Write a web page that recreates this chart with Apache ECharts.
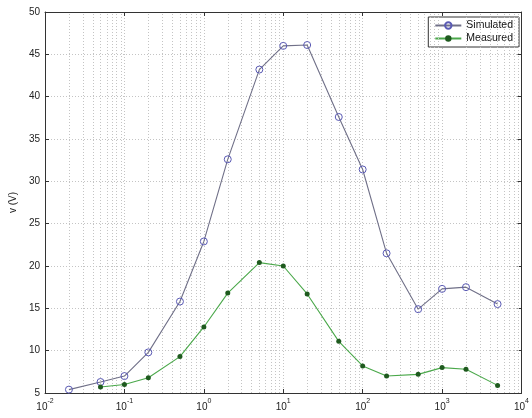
<!DOCTYPE html>
<html>
<head>
<meta charset="utf-8">
<script src="https://cdn.jsdelivr.net/npm/echarts@6/dist/echarts.min.js"></script>
<style>
  html, body { margin: 0; padding: 0; background: #fff; }
  #chart { width: 532px; height: 418px; }
</style>
</head>
<body>
<div id="chart"></div>
<script>
// frequency points (log axis) and measured voltages
var simX = [0.02, 0.05, 0.1, 0.2, 0.5, 1, 2, 5, 10, 20, 50, 100, 200, 500, 1000, 2000, 5000];
var simY = [5.4, 6.3, 7.0, 9.8, 15.8, 22.9, 32.6, 43.2, 46.0, 46.1, 37.6, 31.4, 21.5, 14.9, 17.3, 17.5, 15.5];
var measX = [0.05, 0.1, 0.2, 0.5, 1, 2, 5, 10, 20, 50, 100, 200, 500, 1000, 2000, 5000];
var measY = [5.7, 6.0, 6.8, 9.3, 12.8, 16.8, 20.4, 20.0, 16.7, 11.1, 8.2, 7.0, 7.2, 8.0, 7.8, 5.9];
var xTickExps = [-2, -1, 0, 1, 2, 3, 4];
var yTicks = [5, 10, 15, 20, 25, 30, 35, 40, 45, 50];

function pairs(xs, ys) {
    return xs.map(function (x, i) { return [x, ys[i]]; });
}

// minor log grid lines at 2..9 x 10^k
var minorLines = [];
for (var k = -2; k < 4; k++) {
    for (var m = 2; m <= 9; m++) {
        minorLines.push({ xAxis: m * Math.pow(10, k) });
    }
}

var myChart = echarts.init(document.getElementById('chart'));
var txt = { fontFamily: 'Liberation Sans', fontSize: 10, color: '#222' };
var gridDots = { color: '#c4c4c4', type: [1, 2], width: 1 };

option = {
    animation: false,
    backgroundColor: '#fff',
    textStyle: { fontFamily: 'Liberation Sans' },
    grid: { left: 39, right: 10, top: 12, bottom: 25 },
    legend: {
        right: 13, top: 17,
        orient: 'vertical',
        backgroundColor: '#fff',
        borderColor: '#333', borderWidth: 1, borderRadius: 0,
        padding: [3, 6, 3, 6],
        itemGap: 2, itemWidth: 26, itemHeight: 8,
        textStyle: { fontFamily: 'Liberation Sans', fontSize: 10.5, color: '#111' },
        data: ['Simulated', 'Measured']
    },
    xAxis: [{
        type: 'log', logBase: 10, min: 0.01, max: 10000,
        axisLine: { onZero: false, lineStyle: { color: '#333' } },
        axisTick: { inside: true, length: 4, lineStyle: { color: '#333' } },
        splitLine: { show: true, lineStyle: gridDots },
        axisLabel: {
            margin: 5,
            formatter: function (v) {
                var e = Math.round(Math.log10(v));
                if (xTickExps.indexOf(e) < 0) return '';
                return '{b|10}{s|' + e + '}';
            },
            rich: {
                b: { fontFamily: 'Liberation Sans', fontSize: 10, color: '#222', padding: [4, 0, 0, 0] },
                s: { fontFamily: 'Liberation Sans', fontSize: 7, color: '#222', verticalAlign: 'top', padding: [0, 0, 4, 0] }
            }
        }
    }, {
        type: 'log', logBase: 10, min: 0.01, max: 10000, position: 'top',
        axisLine: { show: true, lineStyle: { color: '#333' } },
        axisTick: { inside: true, length: 4, lineStyle: { color: '#333' } },
        axisLabel: { show: false }, splitLine: { show: false }
    }],
    yAxis: [{
        type: 'value', min: 5, max: 50, interval: 5,
        name: 'v (V)', nameLocation: 'middle', nameGap: 26, nameRotate: 90,
        nameTextStyle: txt,
        axisLine: { show: true, lineStyle: { color: '#333' } },
        axisTick: { inside: true, length: 4, lineStyle: { color: '#333' } },
        splitLine: { show: true, lineStyle: gridDots },
        axisLabel: Object.assign({ margin: 5, formatter: function (v) {
            return yTicks.indexOf(v) >= 0 ? String(v) : '';
        } }, txt)
    }, {
        type: 'value', min: 5, max: 50, interval: 5, position: 'right',
        axisLine: { show: true, lineStyle: { color: '#333' } },
        axisTick: { inside: true, length: 4, lineStyle: { color: '#333' } },
        axisLabel: { show: false }, splitLine: { show: false }
    }],
    series: [{
        name: 'minor',
        type: 'line',
        data: [],
        silent: true,
        markLine: {
            silent: true,
            symbol: 'none',
            label: { show: false },
            lineStyle: gridDots,
            data: minorLines
        }
    }, {
        name: 'Simulated',
        type: 'line',
        data: pairs(simX, simY),
        symbol: 'circle',
        symbolSize: 7,
        z: 5,
        lineStyle: { color: '#707088', width: 1.1 },
        itemStyle: { color: 'rgba(255,255,255,0)', borderColor: '#5a5ab4', borderWidth: 1 }
    }, {
        name: 'Measured',
        type: 'line',
        data: pairs(measX, measY),
        symbol: 'circle',
        symbolSize: 5,
        z: 6,
        lineStyle: { color: '#4aa84a', width: 1.1 },
        itemStyle: { color: '#1e5a1e', borderColor: '#1e5a1e', borderWidth: 0 }
    }]
};
myChart.setOption(option);
</script>
</body>
</html>
